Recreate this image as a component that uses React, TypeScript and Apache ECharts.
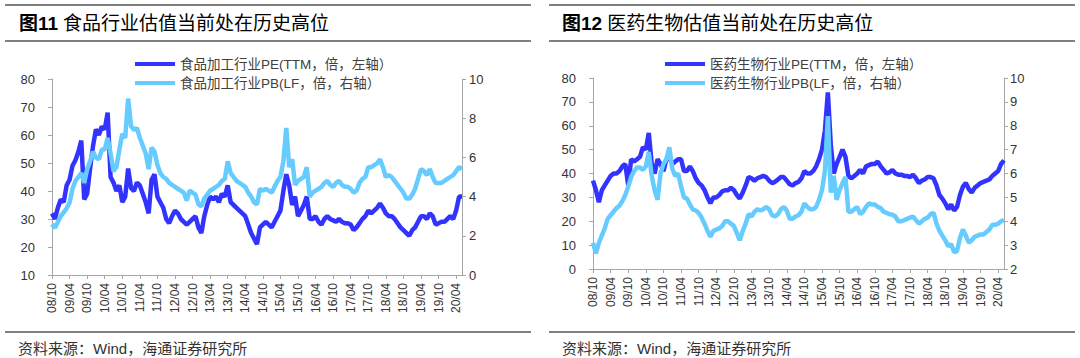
import React, { useEffect, useRef } from "react";
import * as echarts from "echarts";

// ---------- data ----------
const months: string[] = [];
for (let y = 2008, m = 10; y < 2020 || (y === 2020 && m <= 6); ) {
  months.push(String(y % 100).padStart(2, "0") + "/" + String(m).padStart(2, "0"));
  m++;
  if (m > 12) { m = 1; y++; }
}

const foodTitle = "食品行业估值当前处在历史高位";
const medTitle = "医药生物估值当前处在历史高位";
const foodPEName = "食品加工行业PE(TTM，倍，左轴）";
const foodPBName = "食品加工行业PB(LF，倍，右轴）";
const medPEName = "医药生物行业PE(TTM，倍，左轴）";
const medPBName = "医药生物行业PB(LF，倍，右轴）";
const sourceText = "资料来源：Wind，海通证券研究所";

const foodPE = [
  32, 30, 34, 37, 36, 42, 44, 49, 51, 54, 58, 37,
  39, 48, 56, 62, 60, 63, 62, 68, 45, 43, 40, 42,
  36, 38, 48, 41, 40, 43, 42, 39, 36, 32, 44, 46,
  38, 36, 34, 30, 28.5, 31, 33, 32, 30, 29, 28, 29,
  30, 31, 27, 25, 31, 35, 38, 37, 38, 36, 39, 38,
  42, 36, 35, 34, 33, 32, 31, 28, 25, 23, 21, 27,
  28, 29, 28, 27, 29, 31, 33, 40, 46, 42, 35, 38,
  31, 33, 35, 38, 30, 30, 31, 29, 28, 30, 31, 30,
  29.5, 29, 30, 29, 28.5, 28.5, 28, 26, 27, 28.5, 30, 31,
  33, 32, 33, 34, 35.5, 34, 32, 31, 31, 30, 28.5, 27,
  26, 25, 24, 26, 27, 29, 31, 31, 30, 32, 31, 28,
  28.5, 29, 29, 30, 31, 30, 33, 38, 38,
];
const foodPB = [
  2.6, 2.4, 2.7, 3.0, 3.2, 3.4, 3.7, 4.4, 4.8, 5.0, 5.2, 4.7,
  5.4, 5.8, 6.3, 6.0, 5.9, 6.4, 6.4, 7.0, 6.2, 5.3, 5.5, 6.4,
  7.2, 7.0, 9.0, 7.6, 7.4, 7.5, 7.0, 6.6, 6.2, 5.4, 6.5, 6.3,
  5.6, 5.2, 5.0, 4.9, 4.7, 4.6, 4.5, 4.4, 4.3, 4.2, 3.8, 4.3,
  4.2, 4.1, 3.6, 3.5, 3.9, 4.1, 4.3, 4.4, 4.5, 4.6, 4.8, 4.9,
  5.8, 5.2, 5.0, 4.8, 4.7, 4.6, 4.5, 4.2, 4.0, 3.7, 3.6, 4.4,
  4.3, 4.4, 4.3, 4.2, 4.5, 4.8, 5.0, 5.8, 7.5, 5.5, 5.9, 4.6,
  4.8, 4.9, 5.0, 5.5, 4.0, 4.2, 4.3, 4.4, 4.5, 4.7, 4.8, 4.6,
  4.5, 4.7, 4.8, 4.6, 4.5, 4.5, 4.4, 4.2, 4.3, 4.7, 4.9, 5.0,
  5.5, 5.5, 5.6, 5.7, 5.9, 5.5, 5.0, 5.1, 5.0, 4.8, 4.6, 4.4,
  4.2, 3.9, 3.9, 4.1, 4.4, 4.9, 5.4, 5.3, 5.1, 5.4, 5.0, 4.7,
  4.7, 4.7, 4.8, 4.9, 5.0, 5.1, 5.3, 5.5, 5.4,
];
const medPE = [
  37, 33, 28, 33, 35, 37, 39, 40, 40, 41, 43, 44,
  35, 46, 45, 46, 47, 51, 50, 57, 44, 40, 46, 44,
  41, 46, 47, 44, 45, 46, 46, 41, 41, 43, 41, 38,
  36, 35, 33, 30, 27.5, 30, 30, 31, 32.5, 33, 33, 34,
  33, 31, 29.5, 32, 35, 38.5, 38, 37, 38, 38.5, 39, 38.5,
  37, 36, 36.5, 37.5, 38.5, 38.5, 37, 35.5, 35, 36, 36.5, 38,
  41, 40, 40, 41, 43, 46, 50, 58, 74, 52, 40, 44,
  47, 50, 47, 39, 38, 39, 40, 41.5, 40, 43, 43.5, 44,
  44, 45, 43, 41.5, 40, 40.5, 41.5, 40, 39.5, 39.5, 39, 39,
  38.5, 39.5, 38, 36, 37, 37.5, 38.5, 38.5, 38, 35, 31, 29.5,
  27.5, 25, 27, 24.5, 26, 31, 34.5, 36, 33.5, 32, 34, 35,
  36, 36.5, 37, 37.5, 39, 40, 41, 44, 45.5,
];
const medPB = [
  3.1, 2.65, 3.1, 3.4, 3.7, 4.1, 4.25, 4.4, 4.55, 4.65, 4.85, 5.1,
  5.45, 5.85, 6.1, 6.25, 6.25, 6.15, 6.3, 6.9, 5.9, 5.3, 4.9, 6.0,
  6.4, 6.6, 7.1, 6.2, 5.9, 6.0, 5.45, 5.0, 4.95, 4.7, 4.5, 4.45,
  4.35, 4.15, 3.9, 3.6, 3.35, 3.6, 3.65, 3.7, 3.8, 4.0, 4.0, 3.9,
  3.8, 3.5, 3.2, 3.6, 3.9, 4.3, 4.2, 4.4, 4.5, 4.45, 4.5, 4.6,
  4.5, 4.25, 4.2, 4.3, 4.5, 4.6, 4.45, 4.1, 4.1, 4.2, 4.25, 4.4,
  4.75, 4.6, 4.5, 4.5, 4.6, 4.9, 5.3, 6.1, 8.4, 5.2, 5.9, 4.9,
  5.3, 5.6, 5.85, 4.4, 4.4, 4.5, 4.6, 4.3, 4.4, 4.6, 4.75, 4.7,
  4.7, 4.6, 4.55, 4.4, 4.35, 4.3, 4.27, 4.2, 4.0, 4.0, 4.05, 4.1,
  4.15, 4.2, 4.05, 3.9, 4.0, 4.1, 4.15, 4.3, 4.35, 3.9, 3.6, 3.4,
  3.2, 2.95, 3.05, 2.7, 2.75, 3.3, 3.65, 3.4, 3.1, 3.2, 3.35, 3.4,
  3.45, 3.45, 3.55, 3.65, 3.85, 3.85, 3.9, 4.0, 4.05,
];

// ---------- styles ----------
const FONT = "'Liberation Sans', Arial, 'Noto Sans CJK SC', sans-serif";
const PE_COLOR = "#3333ff";
const PB_COLOR = "#66ccff";
const AXIS_COLOR = "#a6a6a6";
const LABEL_COLOR = "#333333";
const RULE_COLOR = "#7f7f7f";

function xAxis(gridIndex: number) {
  return {
    type: "category",
    gridIndex,
    data: months,
    boundaryGap: false,
    axisLine: { onZero: false, lineStyle: { color: AXIS_COLOR } },
    axisTick: { interval: 5, length: 4, lineStyle: { color: AXIS_COLOR } },
    axisLabel: {
      interval: 5,
      rotate: 90,
      margin: 8,
      fontSize: 12,
      color: LABEL_COLOR,
      fontFamily: FONT,
    },
    splitLine: { show: false },
  };
}

function yAxis(gridIndex: number, position: string, min: number, max: number, interval: number, margin: number) {
  return {
    type: "value",
    gridIndex,
    position,
    min,
    max,
    interval,
    axisLine: { show: true, lineStyle: { color: AXIS_COLOR } },
    axisTick: { show: true, length: 4, lineStyle: { color: AXIS_COLOR } },
    axisLabel: { margin, fontSize: 13, color: LABEL_COLOR, fontFamily: FONT },
    splitLine: { show: false },
  };
}

function legend(name: string, left: number, top: number) {
  return {
    data: [name],
    left,
    top,
    padding: 0,
    icon: "rect",
    itemWidth: 40,
    itemHeight: 4,
    selectedMode: false,
    textStyle: { fontSize: 13.5, color: "#404040", fontFamily: FONT, lineHeight: 18 },
  };
}

function line(name: string, data: number[], color: string, xi: number, yi: number) {
  return {
    type: "line",
    name,
    data,
    xAxisIndex: xi,
    yAxisIndex: yi,
    showSymbol: false,
    symbol: "none",
    color,
    lineStyle: { color, width: 4.5 },
  };
}

function rule(x1: number, x2: number, y: number) {
  return {
    type: "line",
    shape: { x1, y1: y, x2, y2: y },
    style: { stroke: RULE_COLOR, lineWidth: 2 },
  };
}

function title(num: string, text: string, left: number) {
  return {
    text: "{b|图" + num + "} {n|" + text + "}",
    left,
    top: 13,
    padding: 0,
    textStyle: {
      rich: {
        b: { fontSize: 19, fontWeight: "bold", color: "#000", fontFamily: FONT, lineHeight: 21 },
        n: { fontSize: 19, fontWeight: "normal", color: "#000", fontFamily: FONT, lineHeight: 21 },
      },
    },
  };
}

export default function App() {
  const ref = useRef<HTMLDivElement>(null);
  useEffect(() => {
    if (!ref.current) return;
    const chart = echarts.init(ref.current, undefined, { renderer: "svg" });
    chart.setOption({
      animation: false,
      backgroundColor: "#ffffff",
      title: [title("11", foodTitle, 19), title("12", medTitle, 562)],
      legend: [
        legend(foodPEName, 135, 55),
        legend(foodPBName, 135, 74),
        legend(medPEName, 665, 55),
        legend(medPBName, 665, 74),
      ],
      grid: [
        { left: 52, top: 79, width: 410, height: 196 },
        { left: 593, top: 78, width: 411, height: 191 },
      ],
      xAxis: [xAxis(0), xAxis(1)],
      yAxis: [
        yAxis(0, "left", 10, 80, 10, 17),
        yAxis(0, "right", 0, 10, 2, 7),
        yAxis(1, "left", 0, 80, 10, 17),
        yAxis(1, "right", 2, 10, 1, 6),
      ],
      series: [
        line(foodPEName, foodPE, PE_COLOR, 0, 0),
        line(foodPBName, foodPB, PB_COLOR, 0, 1),
        line(medPEName, medPE, PE_COLOR, 1, 2),
        line(medPBName, medPB, PB_COLOR, 1, 3),
      ],
      graphic: [
        rule(5, 531, 5),
        rule(5, 531, 41),
        rule(5, 531, 332),
        rule(549, 1075, 5),
        rule(549, 1075, 41),
        rule(549, 1075, 332),
        {
          type: "text",
          x: 18,
          y: 348,
          style: { text: sourceText, fontSize: 15, fill: "#333", fontFamily: FONT, verticalAlign: "middle" },
        },
        {
          type: "text",
          x: 562,
          y: 348,
          style: { text: sourceText, fontSize: 15, fill: "#333", fontFamily: FONT, verticalAlign: "middle" },
        },
      ],
    });
    return () => chart.dispose();
  }, []);
  return (
    <div
      ref={ref}
      style={{ position: "absolute", left: 0, top: 0, width: 1080, height: 358 }}
    />
  );
}
